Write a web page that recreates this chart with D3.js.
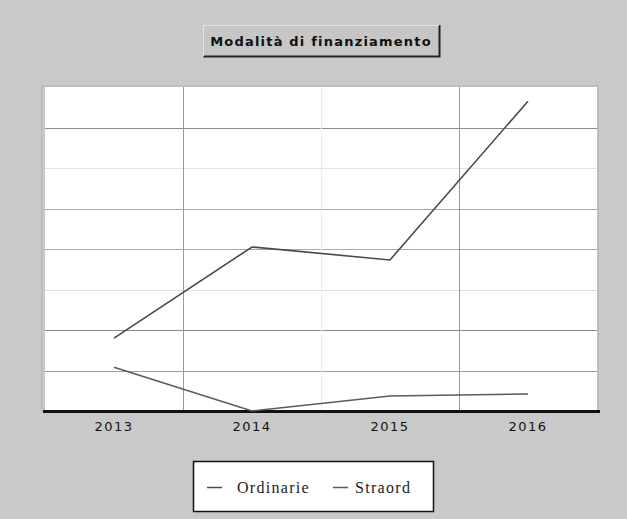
<!DOCTYPE html>
<html>
<head>
<meta charset="utf-8">
<script src="https://cdn.jsdelivr.net/npm/d3@7"></script>
<style>
  html, body { margin: 0; padding: 0; background: #c9c9c9; }
  svg { display: block; }
</style>
</head>
<body>
<svg id="chart" width="627" height="519"></svg>
<script>
// Funding modes per year
const years = ["2013", "2014", "2015", "2016"];
const ordinarie = [1.8, 4.05, 3.73, 7.65];
const straord = [1.08, 0, 0.37, 0.42];
const seriesNames = ["Ordinarie", "Straord"];
const yTicks = [1, 2, 3, 4, 5, 6, 7];
const chartTitle = "Modalità di finanziamento";

const svg = d3.select("#chart");
const W = 627, H = 519;
const plot = { left: 45, right: 597, top: 87, bottom: 411 };

svg.append("rect").attr("width", W).attr("height", H).attr("fill", "#c9c9c9");

const x = d3.scaleBand().domain(years).range([plot.left, plot.right]);
const y = d3.scaleLinear().domain([0, 8]).range([plot.bottom, plot.top]);

// plot frame
svg.append("rect")
  .attr("x", plot.left - 3).attr("y", plot.top - 1)
  .attr("width", plot.right - plot.left + 4).attr("height", plot.bottom - plot.top + 1)
  .attr("fill", "none").attr("stroke", "#b4b4b4").attr("stroke-width", 1);
svg.append("rect")
  .attr("x", plot.left).attr("y", plot.top)
  .attr("width", plot.right - plot.left).attr("height", plot.bottom - plot.top)
  .attr("fill", "#ffffff");

// horizontal grid, shade per tick value 1..7
const gridShade = ["#a0a0a0", "#8c8c8c", "#dedede", "#a8a8a8", "#a8a8a8", "#e2e2e2", "#8c8c8c"];
svg.append("g").selectAll("line").data(yTicks).join("line")
  .attr("x1", plot.left).attr("x2", plot.right)
  .attr("y1", d => Math.round(y(d)) + 0.5).attr("y2", d => Math.round(y(d)) + 0.5)
  .attr("stroke", d => gridShade[d - 1])
  .attr("stroke-width", 1);

// vertical grid between categories
const bounds = years.slice(1).map(yr => x(yr));
svg.append("g").selectAll("line").data(bounds).join("line")
  .attr("x1", d => Math.round(d) + 0.5).attr("x2", d => Math.round(d) + 0.5)
  .attr("y1", plot.top).attr("y2", plot.bottom)
  .attr("stroke", (d, i) => i === 1 ? "#ececec" : "#9a9a9a")
  .attr("stroke-width", 1);

// x axis
const xAxis = d3.axisBottom(x).tickSize(0).tickPadding(11);
const gx = svg.append("g").attr("transform", `translate(0,${plot.bottom})`).call(xAxis);
gx.select(".domain").remove();
gx.selectAll("text")
  .attr("font-family", "DejaVu Sans, sans-serif").attr("font-size", 13)
  .attr("letter-spacing", 1.5)
  .attr("fill", "#111");
svg.append("line")
  .attr("x1", plot.left - 2).attr("x2", plot.right + 3)
  .attr("y1", plot.bottom + 0.5).attr("y2", plot.bottom + 0.5)
  .attr("stroke", "#111").attr("stroke-width", 3);

// series lines
const line = d3.line()
  .x((d, i) => x(years[i]) + x.bandwidth() / 2)
  .y(d => y(d));
const seriesData = [ordinarie, straord];
const seriesColor = ["#4a4a4a", "#5a5a5a"];
svg.append("g").selectAll("path").data(seriesData).join("path")
  .attr("d", line)
  .attr("fill", "none")
  .attr("stroke", (d, i) => seriesColor[i])
  .attr("stroke-width", 1.6);

// title box
const tg = svg.append("g");
tg.append("rect").attr("x", 203).attr("y", 25).attr("width", 236).attr("height", 31)
  .attr("fill", "#c6c6c6").attr("stroke", "none");
tg.append("path").attr("d", "M203.5,56.5 L439.5,56.5 L439.5,25")
  .attr("fill", "none").attr("stroke", "#222").attr("stroke-width", 2);
tg.append("path").attr("d", "M203.5,56 L203.5,25.5 L439,25.5")
  .attr("fill", "none").attr("stroke", "#e4e4e4").attr("stroke-width", 1);
tg.append("text").attr("x", 321).attr("y", 46)
  .attr("text-anchor", "middle")
  .attr("font-family", "DejaVu Sans, sans-serif").attr("font-size", 13).attr("font-weight", "bold")
  .attr("letter-spacing", 1.2)
  .attr("fill", "#111")
  .text(chartTitle);

// legend
const lg = svg.append("g");
lg.append("rect").attr("x", 193.5).attr("y", 461.5).attr("width", 240).attr("height", 50)
  .attr("fill", "#ffffff").attr("stroke", "#111").attr("stroke-width", 1.5);
const legendLineX = [207, 333];
const legendTextX = [237, 355];
const legendItems = lg.selectAll("g").data(seriesNames).join("g");
legendItems.append("line")
  .attr("x1", (d, i) => legendLineX[i]).attr("x2", (d, i) => legendLineX[i] + 15)
  .attr("y1", 487.5).attr("y2", 487.5)
  .attr("stroke", (d, i) => seriesColor[i]).attr("stroke-width", 1.5);
legendItems.append("text")
  .attr("x", (d, i) => legendTextX[i]).attr("y", 493)
  .attr("font-family", "Liberation Serif, serif").attr("font-size", 16)
  .attr("letter-spacing", 1.3)
  .attr("fill", "#222")
  .text(d => d);
</script>
</body>
</html>
